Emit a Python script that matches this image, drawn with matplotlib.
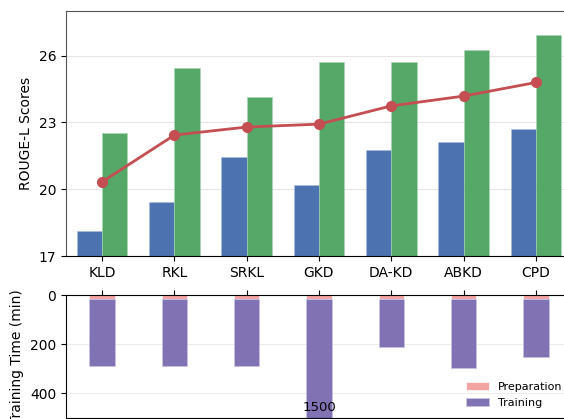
import matplotlib
matplotlib.use("Agg")
import matplotlib.pyplot as plt
import numpy as np

methods = ["KLD", "RKL", "SRKL", "GKD", "DA-KD", "ABKD", "CPD"]
blue_scores = [18.1, 19.43, 21.43, 20.18, 21.78, 22.1, 22.69]
green_scores = [22.54, 25.42, 24.15, 25.69, 25.69, 26.27, 26.9]
avg_scores = [20.33, 22.43, 22.79, 22.92, 23.74, 24.18, 24.79]

prep_time = [15, 15, 15, 15, 15, 15, 15]
train_time = [273, 273, 273, 1485, 195, 284, 237]
clip_label = "1500"

BLUE = "#4c72b0"
GREEN = "#55a868"
RED = "#c44e52"
PINK = "#f4a4a2"
PURPLE = "#8172b3"

W, H = 564, 419
fig = plt.figure(figsize=(W / 100, H / 100), dpi=100)
ax1 = fig.add_axes([66 / W, (419 - 256) / H, 506 / W, 245 / H])
ax2 = fig.add_axes([66 / W, 1.3 / H, 506 / W, 122.4 / H])

x = np.arange(len(methods))
w = 0.35

# top: scores
ax1.bar(x - w / 2, np.array(blue_scores) - 17, w, bottom=17, color=BLUE,
        edgecolor="#a9bde0", linewidth=0.4, zorder=2)
ax1.bar(x + w / 2, np.array(green_scores) - 17, w, bottom=17, color=GREEN,
        edgecolor="#a8d8b4", linewidth=0.4, zorder=2)
ax1.plot(x, avg_scores, color=RED, lw=2, marker="o", ms=7, zorder=3)
ax1.set_xlim(-0.5, 6.5)
ax1.set_ylim(17, 28)
ax1.set_yticks([17, 20, 23, 26])
ax1.set_xticks(x)
ax1.set_xticklabels(methods, fontsize=10)
ax1.tick_params(axis="y", labelsize=10)
ax1.set_ylabel("ROUGE-L Scores", fontsize=10)
ax1.grid(axis="y", color="#e6e6e6", lw=0.8, zorder=0)
ax1.set_axisbelow(True)
for s in ("top", "left", "right"):
    ax1.spines[s].set_color("#555555")

# bottom: time (inverted)
ax2.bar(x, prep_time, w, color=PINK, edgecolor="white", linewidth=0.5,
        label="Preparation", zorder=2)
ax2.bar(x, train_time, w, bottom=prep_time, color=PURPLE, edgecolor="#c8c0e8",
        linewidth=0.5, label="Training", zorder=2)
ax2.set_xlim(-0.5, 6.5)
ax2.set_ylim(500, 0)
ax2.set_yticks([0, 200, 400])
ax2.tick_params(axis="y", labelsize=10)
ax2.xaxis.tick_top()
ax2.set_xticks(x)
ax2.set_xticklabels([])
ax2.set_ylabel("Training Time (min)", fontsize=10)
ax2.grid(axis="y", color="#ececec", lw=0.8, zorder=0)
ax2.set_axisbelow(True)
ax2.text(3, 460, clip_label, ha="center", va="center", fontsize=9.5, zorder=4)
ax2.legend(loc="lower right", frameon=False, fontsize=8, handlelength=2)

fig.savefig("out.png", dpi=100)
